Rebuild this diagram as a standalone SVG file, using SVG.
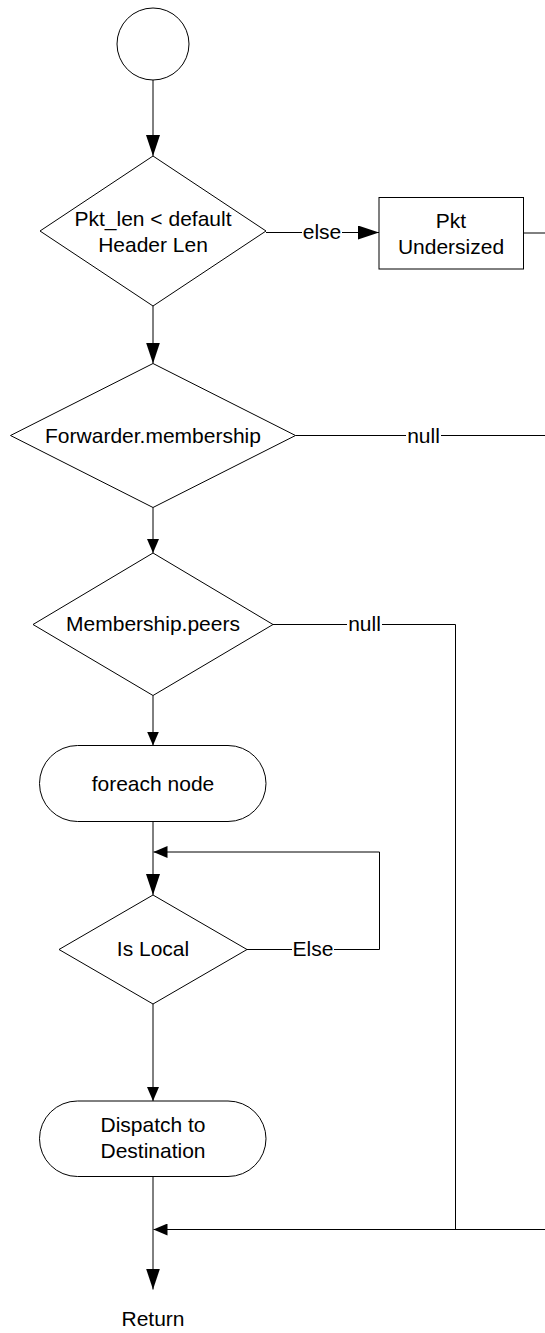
<svg xmlns="http://www.w3.org/2000/svg" width="545" height="1333" viewBox="0 0 545 1333">
<style>
.shape{fill:#fff;stroke:#000;stroke-width:1}
.conn{fill:none;stroke:#000;stroke-width:1}
.t{font-family:"Liberation Sans",Arial,sans-serif;font-size:21px;fill:#000;text-anchor:middle}
.lbl{fill:#fff;stroke:none}
</style>
<defs>
<marker id="big" viewBox="0 0 21 14" refX="21" refY="7" markerWidth="21" markerHeight="14" markerUnits="userSpaceOnUse" orient="auto">
<path d="M0,0 L21,7 L0,14 Z" fill="#000"/>
</marker>
<marker id="small" viewBox="0 0 14 12" refX="14" refY="6" markerWidth="14" markerHeight="12" markerUnits="userSpaceOnUse" orient="auto">
<path d="M0,0 L14,6 L0,12 Z" fill="#000"/>
</marker>
</defs>
<rect width="545" height="1333" fill="#fff"/>
<g id="connectors">
<path class="conn" d="M153,80 L153,156" marker-end="url(#big)"/>
<path class="conn" d="M266,232.5 L379,232.5" marker-end="url(#big)"/>
<path class="conn" d="M523.5,233 L546,233"/>
<path class="conn" d="M153,306 L153,363.5" marker-end="url(#big)"/>
<path class="conn" d="M295.5,435.5 L546,435.5"/>
<path class="conn" d="M153,507.5 L153,553" marker-end="url(#small)"/>
<path class="conn" d="M273,624.5 L455.5,624.5 L455.5,1229.5"/>
<path class="conn" d="M153,695.5 L153,745.5" marker-end="url(#small)"/>
<path class="conn" d="M153,821.5 L153,895" marker-end="url(#big)"/>
<path class="conn" d="M247,949.5 L379.5,949.5 L379.5,852 L153.5,852" marker-end="url(#small)"/>
<path class="conn" d="M153,1004 L153,1101" marker-end="url(#small)"/>
<path class="conn" d="M153,1176.5 L153,1289.5" marker-end="url(#big)"/>
<path class="conn" d="M546,1229.5 L153.5,1229.5" marker-end="url(#small)"/>
<rect class="lbl" x="302" y="222" width="40" height="22"/>
<text class="t" x="322" y="239">else</text>
<rect class="lbl" x="406" y="425" width="35" height="22"/>
<text class="t" x="423.5" y="442.5">null</text>
<rect class="lbl" x="347" y="614" width="35" height="22"/>
<text class="t" x="364.5" y="631">null</text>
<rect class="lbl" x="292" y="939" width="42" height="22"/>
<text class="t" x="313" y="956">Else</text>
</g>
<g id="start">
<circle class="shape" cx="153" cy="44" r="36"/>
</g>
<g id="pkt-len">
<path class="shape" d="M153,156 L266,231 L153,306 L40,231 Z"/>
<text class="t" x="153" y="226">Pkt_len &lt; default</text>
<text class="t" x="153" y="252">Header Len</text>
</g>
<g id="pkt-undersized">
<rect class="shape" x="379" y="197.5" width="144.5" height="71.5"/>
<text class="t" x="451" y="228">Pkt</text>
<text class="t" x="451" y="253.5">Undersized</text>
</g>
<g id="forwarder-membership">
<path class="shape" d="M153,363.5 L295.5,435.5 L153,507.5 L10.5,435.5 Z"/>
<text class="t" x="153" y="442.5">Forwarder.membership</text>
</g>
<g id="membership-peers">
<path class="shape" d="M153,553 L273,624.5 L153,695.5 L33,624.5 Z"/>
<text class="t" x="153" y="631">Membership.peers</text>
</g>
<g id="foreach-node">
<rect class="shape" x="39.5" y="745.5" width="226.5" height="76" rx="38" ry="38"/>
<text class="t" x="153" y="791">foreach node</text>
</g>
<g id="is-local">
<path class="shape" d="M153,895 L247,949.5 L153,1004 L59,949.5 Z"/>
<text class="t" x="153" y="956">Is Local</text>
</g>
<g id="dispatch">
<rect class="shape" x="39.5" y="1101" width="226.5" height="75.5" rx="38" ry="38"/>
<text class="t" x="153" y="1131.5">Dispatch to</text>
<text class="t" x="153" y="1157.5">Destination</text>
</g>
<g id="return">
<text class="t" x="153" y="1326">Return</text>
</g>
</svg>
